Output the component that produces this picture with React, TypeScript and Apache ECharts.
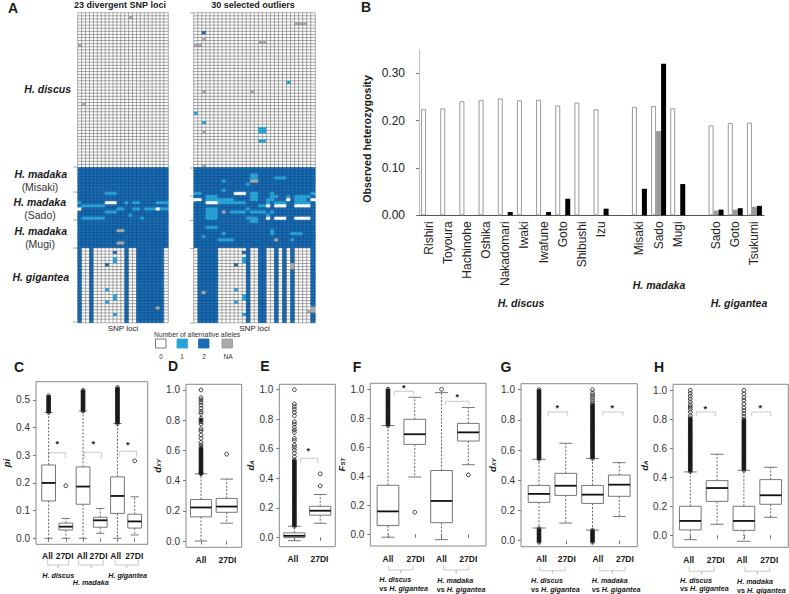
import React, { useEffect, useRef } from "react";
import * as echarts from "echarts";

const FONT = "Liberation Sans";

// ---------- Panel A data: allele counts (0, 1, 2; 3 = NA) ----------
const leftColCount = 23;
const rightColCount = 30;
const discusRowCount = 50;
const madakaRowCount = 26;
const giganteaRowCount = 24;
const leftGiganteaPattern = "20020000000020022222220";
const rightGiganteaPattern = "022222000000020022002020200002";

// [row, columns, allele count]
const leftExceptions = [
  [1, [13], 3], [10, [0], 3], [29, [1], 3],
  [58, [7, 8, 9], 1],
  [61, [0, 12, 14, 15, 20, 21, 22], 1], [61, [7, 8, 9], 0],
  [62, [1, 2, 3, 4, 5, 6], 1],
  [63, [10, 11, 14, 15, 17, 18, 19, 21, 22], 1], [63, [0, 20], 0],
  [64, [7, 8, 9], 1], [65, [13], 1], [66, [1, 2, 3, 4, 5, 6, 16], 1],
  [70, [10, 11], 3], [74, [10, 11], 3],
  [77, [9], 2], [79, [9], 1], [80, [9], 1], [81, [7], 2], [89, [7], 1],
  [91, [9], 1], [92, [9], 1], [93, [7], 1], [95, [20], 3], [97, [9], 1],
];
const rightExceptions = [
  [3, [25, 26, 27], 3], [6, [2], 2], [8, [2], 3], [9, [16, 17], 3], [10, [0, 1], 3],
  [22, [23], 1], [25, [2, 14], 3], [32, [0], 1], [35, [2], 1],
  [37, [16, 17], 1], [38, [16, 17], 1], [38, [2], 3], [41, [16, 17], 1], [49, [2], 3],
  [52, [14, 15], 1], [53, [14, 15, 20, 21, 22], 1], [54, [14, 15], 3], [54, [7], 1],
  [55, [13], 1], [57, [7], 1],
  [58, [0, 1, 14, 15, 19, 29], 1], [58, [10, 11, 12], 0],
  [59, [3, 4, 5, 14, 15, 19, 20, 23, 25, 26, 27, 28], 1],
  [60, [3, 4, 5, 6, 7, 8, 9, 14, 15, 18, 19, 25, 26, 27], 1], [60, [0, 1, 23, 29], 0],
  [61, [6, 7, 8, 9, 10, 11, 12, 18, 20, 21, 22, 25, 26, 27, 28], 1], [61, [3, 4, 5], 0],
  [62, [16, 17], 1], [62, [18, 20, 21, 22, 25, 26, 27, 28], 0],
  [63, [3, 4, 5, 13], 1],
  [64, [3, 4, 5, 9, 10, 11, 12, 14, 15, 16, 17, 19], 1], [64, [7], 3],
  [65, [3, 4, 5, 18], 1],
  [66, [3, 4, 5, 13, 14, 15], 1], [66, [18, 20, 21, 22, 25, 26, 27, 28], 0],
  [67, [14, 15], 1], [69, [3, 4, 5], 1], [70, [19], 1],
  [71, [7, 19, 24, 25, 26], 1], [72, [2], 1],
  [73, [6, 7, 8, 9, 24], 1], [73, [20], 3],
  [77, [12], 2], [79, [12], 1], [80, [12], 1], [81, [10], 2], [81, [24], 3], [82, [24], 3],
  [89, [10], 1], [90, [2], 3], [91, [12], 1], [92, [12], 1], [93, [10], 1],
  [95, [29], 3], [96, [28, 29], 3], [97, [12], 1],
];

// ---------- Panel B data ----------
const popCategories = [
  "Rishiri", "Toyoura", "Hachinohe", "Oshika", "Nakadomari", "Iwaki", "Iwafune", "Goto", "Shibushi", "Izu",
  "", "Misaki", "Sado", "Mugi", "", "Sado", "Goto", "Tsukumi",
];
const hetWhite = [0.224, 0.226, 0.241, 0.244, 0.247, 0.243, 0.244, 0.232, 0.238, 0.224, null, 0.229, 0.231, 0.226, null, 0.19, 0.195, 0.196];
const hetGray = [null, null, null, null, null, null, null, null, null, null, null, null, 0.178, null, null, 0.01, 0.012, 0.018];
const hetBlack = [null, null, null, null, 0.007, null, 0.007, 0.035, null, 0.014, null, 0.056, 0.32, 0.066, null, 0.012, 0.015, 0.02];

// ---------- Panels C-H data: [position, min, q1, median, q3, max] ----------
const cBoxes = [
  [1, 0, 0.135, 0.2, 0.265, 0.455], [2, 0, 0.03, 0.042, 0.055, 0.072],
  [3, 0, 0.123, 0.187, 0.258, 0.46], [4, 0.018, 0.04, 0.065, 0.076, 0.108],
  [5, 0, 0.09, 0.153, 0.222, 0.415], [6, 0.012, 0.037, 0.061, 0.087, 0.15],
];
const dBoxes = [[1, 0, 0.16, 0.222, 0.275, 0.445], [2, 0.118, 0.19, 0.228, 0.282, 0.41]];
const eBoxes = [[1, -0.023, -0.002, 0.01, 0.03, 0.075], [2, 0.095, 0.15, 0.18, 0.21, 0.29]];
const fBoxes = [
  [1, -0.02, 0.06, 0.158, 0.338, 0.75], [2, 0.395, 0.62, 0.69, 0.793, 0.945],
  [3, -0.037, 0.08, 0.23, 0.44, 0.977], [4, 0.48, 0.643, 0.703, 0.765, 0.875],
];
const gBoxes = [
  [1, 0.084, 0.254, 0.31, 0.366, 0.539], [2, 0.117, 0.3, 0.364, 0.446, 0.645],
  [3, 0.07, 0.247, 0.305, 0.366, 0.545], [4, 0.16, 0.294, 0.371, 0.435, 0.517],
];
const hBoxes = [
  [1, -0.03, 0.037, 0.099, 0.2, 0.437], [2, 0.076, 0.234, 0.326, 0.377, 0.559],
  [3, -0.041, 0.034, 0.099, 0.2, 0.448], [4, 0.124, 0.214, 0.276, 0.384, 0.469],
];

// Outliers, one list per box
const cOutliers = [
  [0.455, 0.46, 0.465, 0.47, 0.475, 0.48, 0.485, 0.49, 0.495, 0.5, 0.505, 0.51, 0.515],
  [0.19],
  [0.46, 0.465, 0.47, 0.475, 0.48, 0.485, 0.49, 0.495, 0.5, 0.505, 0.51, 0.515, 0.52, 0.525, 0.53, 0.535],
  [],
  [0.415, 0.42, 0.425, 0.43, 0.435, 0.44, 0.445, 0.45, 0.455, 0.46, 0.465, 0.47, 0.475, 0.48, 0.485, 0.49, 0.495, 0.5, 0.505, 0.51, 0.515, 0.52, 0.525, 0.53, 0.535, 0.54, 0.545],
  [0.28],
];
const dOutliers = [
  [0.445, 0.45, 0.455, 0.46, 0.47, 0.48, 0.49, 0.5, 0.51, 0.52, 0.53, 0.54, 0.55, 0.56, 0.57, 0.58, 0.59, 0.6, 0.61, 0.62, 0.636, 0.653, 0.68, 0.702, 0.728, 0.742, 0.775, 0.79, 0.801, 0.812, 0.845, 0.857, 0.879, 0.9, 0.918, 0.934, 0.949, 1.0],
  [0.575],
];
const eOutliers = [
  [0.075, 0.085, 0.095, 0.105, 0.115, 0.125, 0.135, 0.145, 0.155, 0.165, 0.175, 0.185, 0.195, 0.205, 0.215, 0.225, 0.235, 0.245, 0.255, 0.265, 0.275, 0.285, 0.295, 0.305, 0.315, 0.325, 0.335, 0.345, 0.355, 0.365, 0.375, 0.385, 0.395, 0.405, 0.415, 0.425, 0.435, 0.445, 0.455, 0.465, 0.475, 0.485, 0.495, 0.505, 0.515, 0.525, 0.546, 0.57, 0.592, 0.61, 0.625, 0.655, 0.67, 0.711, 0.727, 0.745, 0.767, 0.783, 0.824, 0.847, 0.867, 0.885, 0.903, 1.0],
  [0.348, 0.43],
];
const fOutliers = [
  [0.75, 0.76, 0.77, 0.78, 0.79, 0.8, 0.81, 0.82, 0.83, 0.84, 0.85, 0.86, 0.87, 0.88, 0.89, 0.9, 0.91, 0.92, 0.93, 0.94, 0.95, 0.96, 0.97, 0.98, 0.99, 1.0],
  [0.152],
  [1.0],
  [0.41],
];
const gOutliers = [
  [-0.01, 0, 0.01, 0.02, 0.03, 0.04, 0.05, 0.06, 0.07, 0.08, 0.54, 0.55, 0.56, 0.57, 0.58, 0.59, 0.6, 0.61, 0.62, 0.63, 0.64, 0.65, 0.66, 0.67, 0.68, 0.69, 0.7, 0.71, 0.72, 0.73, 0.74, 0.75, 0.76, 0.77, 0.78, 0.79, 0.8, 0.81, 0.82, 0.83, 0.84, 0.85, 0.86, 0.87, 0.88, 0.89, 0.9, 0.91, 0.92, 0.93, 0.94, 0.95, 0.96, 0.97, 0.98, 0.99, 1.0],
  [],
  [-0.01, 0, 0.01, 0.02, 0.03, 0.04, 0.05, 0.06, 0.07, 0.545, 0.555, 0.565, 0.575, 0.585, 0.595, 0.605, 0.615, 0.625, 0.635, 0.645, 0.655, 0.665, 0.675, 0.685, 0.695, 0.705, 0.715, 0.725, 0.735, 0.745, 0.755, 0.765, 0.775, 0.785, 0.795, 0.805, 0.815, 0.825, 0.835, 0.845, 0.855, 0.865, 0.875, 0.885, 0.895, 0.905, 0.92, 0.935, 0.95, 0.965, 0.98, 1.0],
  [],
];
const hOutliers = [
  [0.44, 0.45, 0.46, 0.47, 0.48, 0.49, 0.5, 0.51, 0.52, 0.53, 0.54, 0.55, 0.56, 0.57, 0.58, 0.59, 0.6, 0.61, 0.62, 0.63, 0.64, 0.65, 0.66, 0.67, 0.68, 0.69, 0.7, 0.71, 0.72, 0.73, 0.74, 0.75, 0.76, 0.77, 0.78, 0.79, 0.8, 0.81, 0.825, 0.85, 0.87, 0.885, 0.9, 0.92, 0.94, 0.96, 0.98, 1.0],
  [],
  [0.45, 0.46, 0.47, 0.48, 0.49, 0.5, 0.51, 0.52, 0.53, 0.54, 0.55, 0.56, 0.57, 0.58, 0.59, 0.6, 0.61, 0.62, 0.63, 0.64, 0.65, 0.66, 0.67, 0.68, 0.69, 0.7, 0.71, 0.72, 0.73, 0.74, 0.75, 0.76, 0.77, 0.78, 0.79, 0.8, 0.82, 0.84, 0.86, 0.88, 0.905, 0.93, 0.95, 0.975, 1.0],
  [],
];

const xLabels6 = ["All", "27DI", "All", "27DI", "All", "27DI"];
const xLabels4 = ["All", "27DI", "All", "27DI"];
const xLabels2 = ["All", "27DI"];
const ticks01 = [0, 0.2, 0.4, 0.6, 0.8, 1.0];
const ticksPi = [0, 0.1, 0.2, 0.3, 0.4, 0.5];
const ticksHet = [0, 0.1, 0.2, 0.3];

// ---------- Layout of the box panels ----------
const panels = [
  { left: 32.7, top: 381.7, width: 115, height: 162.6, ymin: -0.0217, ymax: 0.566, xmin: 0.266, xmax: 6.757, boxW: 0.8, yTicks: ticksPi, names: xLabels6, labelAt: [0.93, 1.93, 2.95, 3.9, 4.9, 5.98], boxes: cBoxes, outliers: cOutliers, title: "{i|pi}", gap: 25, labelMargin: 7 },
  { left: 186, top: 384.3, width: 55.7, height: 163, ymin: -0.0417, ymax: 1.0377, xmin: 0.416, xmax: 2.584, boxW: 0.82, yTicks: ticks01, names: xLabels2, labelAt: [1, 2.03], boxes: dBoxes, outliers: dOutliers, title: "{i|d}{s|XY}", gap: 22, labelMargin: 8 },
  { left: 279.3, top: 384.3, width: 56, height: 162.4, ymin: -0.0637, ymax: 1.0366, xmin: 0.416, xmax: 2.584, boxW: 0.82, yTicks: ticks01, names: xLabels2, labelAt: [0.94, 1.97], boxes: eBoxes, outliers: eOutliers, title: "{i|d}{s|A}", gap: 22, labelMargin: 8 },
  { left: 370.3, top: 383.3, width: 115.7, height: 162.7, ymin: -0.0807, ymax: 1.0414, xmin: 0.34, xmax: 4.66, boxW: 0.81, yTicks: ticks01, names: xLabels4, labelAt: [1, 2.03, 3, 4], boxes: fBoxes, outliers: fOutliers, title: "{i|F}{s|ST}", gap: 21, labelMargin: 8 },
  { left: 521, top: 383.7, width: 116.3, height: 163, ymin: -0.0397, ymax: 1.0397, xmin: 0.326, xmax: 4.674, boxW: 0.81, yTicks: ticks01, names: xLabels4, labelAt: [1.09, 2.04, 3.2, 4.21], boxes: gBoxes, outliers: gOutliers, title: "{i|d}{s|XY}", gap: 21, labelMargin: 8 },
  { left: 673, top: 384.3, width: 115.3, height: 163, ymin: -0.0828, ymax: 1.0414, xmin: 0.355, xmax: 4.657, boxW: 0.81, yTicks: ticks01, names: xLabels4, labelAt: [0.94, 1.95, 2.93, 3.95], boxes: hBoxes, outliers: hOutliers, title: "{i|d}{s|A}", gap: 21, labelMargin: 8 },
];

const COLOR0 = "#ffffff";
const COLOR1 = "#2aa3d6";
const COLOR2 = "#1a6cb4";
const COLORNA = "#aaaaaa";

// ---------- helpers ----------
function buildMatrix(cols: number, pattern: string, exceptions: any[]) {
  const rows: number[][] = [];
  for (let r = 0; r < discusRowCount + madakaRowCount + giganteaRowCount; r++) {
    const row: number[] = [];
    for (let c = 0; c < cols; c++) {
      if (r < discusRowCount) row.push(0);
      else if (r < discusRowCount + madakaRowCount) row.push(2);
      else row.push(Number(pattern[c]));
    }
    rows.push(row);
  }
  exceptions.forEach(([r, cs, v]) => cs.forEach((c: number) => (rows[r][c] = v)));
  const data: any[] = [];
  const borders = ["#666666", "#2698c8", "#0f4a80", "#9a9a9a"];
  rows.forEach((row, r) =>
    row.forEach((v, c) => {
      const inMadaka = r >= discusRowCount && r < discusRowCount + madakaRowCount;
      data.push({
        value: [c, r, v],
        itemStyle: { borderColor: v === 0 && inMadaka ? "#ffffff" : borders[v], borderWidth: 0.5 },
      });
    })
  );
  return data;
}

const range = (n: number) => Array.from({ length: n }, (_, i) => String(i));

const renderBox = (params: any, api: any) => {
  const x = api.value(0);
  const [cx, yMin] = api.coord([x, api.value(1)]);
  const yQ1 = api.coord([x, api.value(2)])[1];
  const yMed = api.coord([x, api.value(3)])[1];
  const yQ3 = api.coord([x, api.value(4)])[1];
  const yMax = api.coord([x, api.value(5)])[1];
  const half = (api.size([api.value(6), 0])[0] as number) / 2;
  const cap = half * 0.6;
  const whisker = { stroke: "#555", lineWidth: 0.9, lineDash: [2, 1.6] };
  const capStyle = { stroke: "#666", lineWidth: 0.9 };
  return {
    type: "group",
    children: [
      { type: "line", shape: { x1: cx, y1: yQ3, x2: cx, y2: yMax }, style: whisker },
      { type: "line", shape: { x1: cx, y1: yQ1, x2: cx, y2: yMin }, style: whisker },
      { type: "line", shape: { x1: cx - cap, y1: yMax, x2: cx + cap, y2: yMax }, style: capStyle },
      { type: "line", shape: { x1: cx - cap, y1: yMin, x2: cx + cap, y2: yMin }, style: capStyle },
      { type: "rect", shape: { x: cx - half, y: yQ3, width: half * 2, height: yQ1 - yQ3 }, style: { stroke: "#777", lineWidth: 1, fill: "#fff" } },
      { type: "line", shape: { x1: cx - half, y1: yMed, x2: cx + half, y2: yMed }, style: { stroke: "#111", lineWidth: 1.8 } },
    ],
  };
};

// ---------- annotation helpers ----------
const txt = (text: string, x: number, y: number, font: string, align = "left", fill = "#1a1a1a", rotation = 0) => ({
  type: "text", x, y, rotation, silent: true,
  style: { text, fill, font: `${font} "${FONT}"`, align, verticalAlign: "middle" },
});
const bracketUp = (x1: number, x2: number, yTop: number, yEnd: number) => ({
  type: "polyline", silent: true,
  shape: { points: [[x1, yEnd], [x1, yTop], [x2, yTop], [x2, yEnd]] },
  style: { stroke: "#bbb", lineWidth: 0.8, fill: "none" },
});
const bracketDown = (x1: number, x2: number, yStart: number, yBar: number) => ({
  type: "polyline", silent: true,
  shape: { points: [[x1, yStart], [x1, yBar], [(x1 + x2) / 2, yBar], [(x1 + x2) / 2, yBar + 3], [(x1 + x2) / 2, yBar], [x2, yBar], [x2, yStart]] },
  style: { stroke: "#bbb", lineWidth: 0.8, fill: "none" },
});
const hline = (x1: number, x2: number, y: number) => ({
  type: "line", silent: true, shape: { x1, y1: y, x2, y2: y }, style: { stroke: "#999", lineWidth: 0.8 },
});
const richBase = { fontFamily: FONT, fontWeight: "bold", fontSize: 7.2, fill: "#1a1a1a", color: "#1a1a1a" };
const vsLabel = (x: number, y: number) => ({
  type: "text", x, y, silent: true,
  style: {
    text: "{b|vs }{i|H. gigantea}", align: "left", verticalAlign: "middle",
    rich: { b: { ...richBase }, i: { ...richBase, fontStyle: "italic" } },
  },
});
const sp = "bold italic 10.5px";
const smallSp = "bold italic 7.2px";
const swatch = (x: number, fill: string, stroke: string) => ({
  type: "rect", silent: true, shape: { x, y: 339, width: 10.5, height: 9 }, style: { fill, stroke, lineWidth: 0.8 },
});

const graphicElements: any[] = [
  // Panel letters
  txt("A", 8, 7.5, "bold 14px"),
  txt("B", 366, 7, "bold 14px", "center"),
  txt("C", 19, 367, "bold 14px", "center"),
  txt("D", 173, 366, "bold 14px", "center"),
  txt("E", 265, 366, "bold 14px", "center"),
  txt("F", 357, 367, "bold 14px", "center"),
  txt("G", 506, 367, "bold 14px", "center"),
  txt("H", 659, 367, "bold 14px", "center"),
  // Panel A titles and labels
  txt("23 divergent SNP loci", 120, 4.5, "bold 9px", "center"),
  txt("30 selected outliers", 253, 4.5, "bold 9px", "center"),
  txt("H. discus", 71, 89, sp, "right"),
  txt("H. madaka", 67, 174, sp, "right"),
  txt("(Misaki)", 40, 187, "10.5px", "center", "#333"),
  txt("H. madaka", 66, 202, sp, "right"),
  txt("(Sado)", 40, 215, "10.5px", "center", "#333"),
  txt("H. madaka", 67, 231, sp, "right"),
  txt("(Mugi)", 40, 244, "10.5px", "center", "#333"),
  txt("H. gigantea", 69, 277, sp, "right"),
  // section ticks
  hline(73, 78, 167), hline(73, 78, 192), hline(73, 78, 220), hline(73, 78, 248), hline(73, 78, 322),
  hline(190, 194, 13), hline(190, 194, 168), hline(190, 194, 196), hline(190, 194, 220.5), hline(190, 194, 248.5), hline(190, 194, 323),
  // allele legend
  txt("Number of alternative alleles", 154, 334, "6.8px", "left", "#333"),
  swatch(155.5, COLOR0, "#555"), swatch(177, COLOR1, COLOR1), swatch(198.5, COLOR2, COLOR2), swatch(222, COLORNA, "#999"),
  txt("0", 161, 356, "6.6px", "center", "#333"),
  txt("1", 182, 356, "6.6px", "center", "#333"),
  txt("2", 204, 356, "6.6px", "center", "#333"),
  txt("NA", 228, 356, "6.6px", "center", "#333"),
  // Panel B annotation
  txt("Observed heterozygosity", 366.5, 139, "bold 10.7px", "center", "#1a1a1a", Math.PI / 2),
  txt("H. discus", 521, 303, sp, "center"),
  txt("H. madaka", 659, 284.5, sp, "center"),
  txt("H. gigantea", 739, 303, sp, "center"),
  // Panel C annotation
  txt("*", 57.3, 444, "bold 9px", "center"), txt("*", 93.3, 443.5, "bold 9px", "center"), txt("*", 127.7, 445, "bold 9px", "center"),
  bracketUp(48.3, 65.3, 452.7, 458.3), bracketUp(84.3, 101.3, 452.3, 458.3), bracketUp(119.7, 136.7, 451.3, 456.7),
  bracketDown(47.7, 68.7, 560, 565), bracketDown(78.7, 103.3, 560, 565), bracketDown(115, 138.3, 560, 565),
  txt("H. discus", 42.3, 575.7, smallSp), txt("H. madaka", 72.7, 582.7, smallSp), txt("H. gigantea", 108.3, 575.3, smallSp),
  // Panel E annotation
  txt("*", 308.3, 451, "bold 9px", "center"), bracketUp(300.7, 317.7, 458.3, 463.3),
  // Panel F annotation
  txt("*", 403.7, 388, "bold 9px", "center"), txt("*", 457.3, 397, "bold 9px", "center"),
  bracketUp(394.3, 413.7, 391.3, 395), bracketUp(445.7, 469, 401.3, 405),
  bracketDown(388.7, 413, 566, 570), bracketDown(443.7, 468.7, 565, 570),
  txt("H. discus", 379.3, 579.3, smallSp), vsLabel(379.3, 588),
  txt("H. madaka", 437.3, 580.3, smallSp), vsLabel(436.7, 589),
  // Panel G annotation
  txt("*", 557.3, 408.3, "bold 9px", "center"), txt("*", 612.3, 408.3, "bold 9px", "center"),
  bracketUp(548.3, 567.7, 412, 415.7), bracketUp(602.7, 623, 412, 415.7),
  bracketDown(540, 565, 566.7, 570.7), bracketDown(599.7, 625, 566.7, 570.7),
  txt("H. discus", 531, 580.3, smallSp), vsLabel(531, 589),
  txt("H. madaka", 591.7, 580.7, smallSp), vsLabel(591.7, 589.7),
  // Panel H annotation
  txt("*", 705.3, 409, "bold 9px", "center"), txt("*", 760.3, 408.3, "bold 9px", "center"),
  bracketUp(696.3, 715.3, 412, 416), bracketUp(751.7, 770.7, 412, 416),
  bracketDown(689.3, 714, 566.7, 571.3), bracketDown(745, 769.7, 566.7, 571.3),
  txt("H. discus", 680, 580, smallSp), vsLabel(680, 588.7),
  txt("H. madaka", 737, 581, smallSp), vsLabel(737, 590),
];

// ---------- option ----------
function buildOption() {
  const grids: any[] = [
    { left: 78, top: 13, width: 90, height: 309.5 },
    { left: 194, top: 13, width: 121, height: 309.5 },
    { left: 419, top: 49.6, width: 345, height: 165.7 },
  ];
  const heatAxisY = (i: number) => ({ gridIndex: i, type: "category", inverse: true, data: range(100), axisLine: { show: false }, axisTick: { show: false }, axisLabel: { show: false } });
  const heatAxisX = (i: number, n: number) => ({
    gridIndex: i, type: "category", data: range(n), axisLine: { show: false }, axisTick: { show: false }, axisLabel: { show: false },
    name: "SNP loci", nameLocation: "middle", nameGap: 2,
    nameTextStyle: { fontFamily: FONT, fontSize: 8, color: "#222" },
  });
  const xAxes: any[] = [
    heatAxisX(0, leftColCount),
    heatAxisX(1, rightColCount),
    {
      gridIndex: 2, type: "category", data: popCategories,
      axisLine: { lineStyle: { color: "#555", width: 1 } }, axisTick: { show: false },
      axisLabel: { interval: 0, rotate: 90, margin: 6, fontFamily: FONT, fontSize: 12, color: "#222" },
    },
  ];
  const yAxes: any[] = [
    heatAxisY(0),
    heatAxisY(1),
    {
      gridIndex: 2, type: "value", min: 0, max: 0.35,
      axisLine: { show: true, lineStyle: { color: "#bbb", width: 1 } },
      axisTick: { show: true, length: 3, customValues: ticksHet, lineStyle: { color: "#777" } },
      axisLabel: { customValues: ticksHet, formatter: (v: number) => v.toFixed(2), margin: 14, fontFamily: FONT, fontSize: 12, color: "#222" },
      splitLine: { show: false },
    },
  ];
  const heatSeries = (i: number, data: any[]) => ({
    type: "heatmap", xAxisIndex: i, yAxisIndex: i, data, progressive: 0, silent: true,
    itemStyle: { borderWidth: 0.5 }, emphasis: { disabled: true },
  });
  const barSeries = (data: any[], color: string, border?: string) => ({
    type: "bar", xAxisIndex: 2, yAxisIndex: 2, data, barWidth: 5, barGap: "0%", silent: true,
    itemStyle: border ? { color, borderColor: border, borderWidth: 1 } : { color },
  });
  const series: any[] = [
    heatSeries(0, buildMatrix(leftColCount, leftGiganteaPattern, leftExceptions)),
    heatSeries(1, buildMatrix(rightColCount, rightGiganteaPattern, rightExceptions)),
    barSeries(hetWhite, "#fff", "#999"),
    barSeries(hetGray, "#999999"),
    barSeries(hetBlack, "#000000"),
  ];

  panels.forEach((p, idx) => {
    const g = idx + 3;
    grids.push({ left: p.left, top: p.top, width: p.width, height: p.height, show: true, borderColor: "#888", borderWidth: 1, backgroundColor: "transparent" });
    const positions = p.names.map((_, i) => i + 1);
    xAxes.push({
      gridIndex: g, type: "value", min: p.xmin, max: p.xmax,
      axisLine: { show: false }, splitLine: { show: false },
      axisTick: { show: true, length: 3.5, customValues: positions, lineStyle: { color: "#777" } },
      axisLabel: {
        customValues: p.labelAt,
        formatter: (v: number) => p.names[p.labelAt.indexOf(v)] ?? "",
        margin: p.labelMargin, fontFamily: FONT, fontSize: 8.5, fontWeight: "bold", color: "#1a1a1a",
      },
    });
    yAxes.push({
      gridIndex: g, type: "value", min: p.ymin, max: p.ymax,
      axisLine: { show: false }, splitLine: { show: false },
      axisTick: { show: true, length: 3, customValues: p.yTicks, lineStyle: { color: "#777" } },
      axisLabel: { customValues: p.yTicks, formatter: (v: number) => v.toFixed(1), margin: 6, fontFamily: FONT, fontSize: 10, color: "#333" },
      name: p.title, nameLocation: "middle", nameRotate: 90, nameGap: p.gap,
      nameTextStyle: {
        rich: {
          i: { fontFamily: FONT, fontStyle: "italic", fontWeight: "bold", fontSize: 9.5, color: "#1a1a1a" },
          s: { fontFamily: FONT, fontStyle: "italic", fontWeight: "bold", fontSize: 6, color: "#1a1a1a", verticalAlign: "bottom" },
        },
      },
    });
    series.push({
      type: "custom", xAxisIndex: g, yAxisIndex: g, clip: false, silent: true,
      encode: { x: 0, y: [1, 2, 3, 4, 5] },
      data: p.boxes.map((b) => [...b, p.boxW]),
      renderItem: renderBox,
    });
    const pts: any[] = [];
    p.outliers.forEach((list, i) =>
      list.forEach((v, k) => {
        // Runs of overlapping outliers read as a solid black column.
        const near = (o: number | undefined) => o !== undefined && Math.abs(o - v) < 0.0115;
        const solid = near(list[k - 1]) && near(list[k + 1]);
        pts.push(solid ? { value: [i + 1, v], itemStyle: { color: "#111" } } : { value: [i + 1, v] });
      })
    );
    series.push({
      type: "scatter", xAxisIndex: g, yAxisIndex: g, data: pts, symbol: "circle", symbolSize: 3.8, silent: true, progressive: 0, large: false,
      itemStyle: { color: "rgba(0,0,0,0)", borderColor: "#222", borderWidth: 0.9, opacity: 1 },
    });
  });

  return {
    animation: false,
    backgroundColor: "#fff",
    textStyle: { fontFamily: FONT },
    tooltip: { show: false },
    grid: grids,
    xAxis: xAxes,
    yAxis: yAxes,
    visualMap: {
      type: "piecewise", show: false, seriesIndex: [0, 1], dimension: 2,
      pieces: [
        { value: 0, color: COLOR0 }, { value: 1, color: COLOR1 },
        { value: 2, color: COLOR2 }, { value: 3, color: COLORNA },
      ],
    },
    series,
    graphic: { elements: graphicElements },
  };
}

export default function App() {
  const ref = useRef<HTMLDivElement>(null);
  useEffect(() => {
    document.body.style.margin = "0";
    const chart = echarts.init(ref.current!, undefined, { renderer: "svg" });
    chart.setOption(buildOption() as any);
    return () => chart.dispose();
  }, []);
  return <div ref={ref} style={{ width: 789, height: 594, position: "absolute", left: 0, top: 0 }} />;
}
